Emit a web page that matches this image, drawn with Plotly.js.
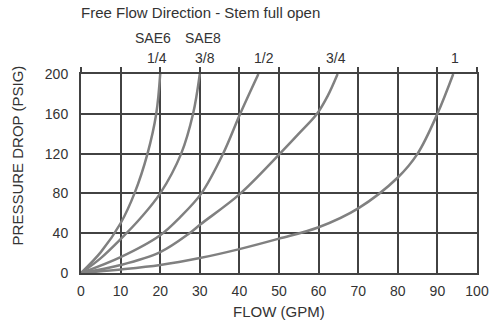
<!DOCTYPE html>
<html>
<head>
<meta charset="utf-8">
<script src="https://cdn.plot.ly/plotly-3.0.1.min.js"></script>
<style>html,body{margin:0;padding:0;background:#fff;}#chart{width:496px;height:322px;}</style>
</head>
<body>
<div id="chart"></div>
<script>
// Curve data (FLOW in GPM, PRESSURE DROP in PSIG)
const flow_1_4 = [0, 5, 10, 13.5, 16.8, 19, 20];
const psi_1_4  = [0, 21, 50, 80, 120, 160, 200];

const flow_3_8 = [0, 5, 10, 15, 20, 25.3, 28.3, 30];
const psi_3_8  = [0, 15, 34, 55, 80, 120, 160, 200];

const flow_1_2 = [0, 10, 20, 25, 30.4, 35.9, 40.2, 44.8];
const psi_1_2  = [0, 16, 38, 56, 80, 120, 160, 200];

const flow_3_4 = [0, 10, 20, 27.4, 30.2, 40, 50, 55, 59.6, 62.3, 64.8];
const psi_3_4  = [0, 8, 21, 40, 49, 79, 119, 140, 160, 178, 200];

const flow_1 = [0, 10, 20, 30, 40, 50, 60, 70, 80, 85, 90, 94];
const psi_1  = [0, 3.5, 8, 15, 24, 34.5, 46, 65, 96, 120, 160, 200];

const seriesFlows = [flow_1_4, flow_3_8, flow_1_2, flow_3_4, flow_1];
const seriesPsi   = [psi_1_4, psi_3_8, psi_1_2, psi_3_4, psi_1];
const seriesNames = ['1/4', '3/8', '1/2', '3/4', '1'];

// Curve labels above the plot
const labelTexts = ['SAE6', 'SAE8', '1/4', '3/8', '1/2', '3/4', '1'];
const labelX     = [18.3, 30.9, 19.2, 31.2, 46.1, 64.5, 94.5];
const labelRow   = [0, 0, 1, 1, 1, 1, 1];

const xTicks = [0, 10, 20, 30, 40, 50, 60, 70, 80, 90, 100];
const yTicks = [0, 40, 80, 120, 160, 200];

const FONT = 'Liberation Sans, Arial, sans-serif';
const TXT = '#333';
const GRID = '#424242';

const traces = seriesFlows.map((f, i) => ({
  x: f, y: seriesPsi[i], name: seriesNames[i], type: 'scatter', mode: 'lines',
  line: {color: '#808080', width: 2.5, shape: 'spline', smoothing: 1},
  hoverinfo: 'skip', showlegend: false, cliponaxis: true
}));
// invisible copy on the top axis so that its tick marks get drawn
traces.push({
  x: flow_1, y: psi_1, xaxis: 'x2', yaxis: 'y', type: 'scatter', mode: 'lines',
  line: {color: 'rgba(0,0,0,0)', width: 0}, opacity: 0,
  hoverinfo: 'skip', showlegend: false
});

const rowY = [1.181, 1.080];
const annotations = labelTexts.map((t, i) => ({
  text: t, xref: 'x', yref: 'paper', x: labelX[i], y: rowY[labelRow[i]],
  showarrow: false, xanchor: 'center', yanchor: 'middle',
  font: {family: FONT, size: 14, color: TXT}
}));
annotations.push({
  text: 'FLOW (GPM)', xref: 'paper', yref: 'paper', x: 0.5, y: -0.191,
  showarrow: false, xanchor: 'center', yanchor: 'middle',
  font: {family: FONT, size: 15, color: TXT}
});
annotations.push({
  text: 'PRESSURE DROP (PSIG)', xref: 'paper', yref: 'paper', x: -0.158, y: 0.593,
  showarrow: false, xanchor: 'center', yanchor: 'middle', textangle: -90,
  font: {family: FONT, size: 15, color: TXT}
});

const layout = {
  width: 496, height: 322,
  margin: {l: 80.5, r: 19.3, t: 74, b: 49, pad: 0},
  paper_bgcolor: '#fff', plot_bgcolor: '#fff',
  title: {
    text: 'Free Flow Direction - Stem full open',
    font: {family: FONT, size: 15, color: TXT},
    xref: 'paper', x: 0, xanchor: 'left',
    yref: 'container', y: 0.96, yanchor: 'middle'
  },
  xaxis: {
    range: [0, 100], tickvals: xTicks, ticktext: xTicks.map(String),
    showgrid: true, gridcolor: GRID, gridwidth: 2,
    showline: true, linecolor: GRID, linewidth: 2, mirror: true,
    zeroline: false, ticks: '', ticklabelstandoff: 4,
    tickfont: {family: FONT, size: 14, color: TXT}, fixedrange: true
  },
  xaxis2: {
    range: [0, 100], tickvals: xTicks, overlaying: 'x', side: 'top', anchor: 'y',
    showgrid: false, showline: false, zeroline: false,
    ticks: 'outside', ticklen: 6, tickwidth: 2, tickcolor: GRID,
    showticklabels: false, fixedrange: true
  },
  yaxis: {
    range: [0, 200], tickvals: yTicks, ticktext: yTicks.map(String),
    showgrid: true, gridcolor: GRID, gridwidth: 2,
    showline: true, linecolor: GRID, linewidth: 2, mirror: true,
    zeroline: false, ticks: '', ticklabelstandoff: 8,
    tickfont: {family: FONT, size: 14, color: TXT}, fixedrange: true
  },
  annotations: annotations,
  showlegend: false
};

Plotly.newPlot('chart', traces, layout, {displayModeBar: false, staticPlot: true});
</script>
</body>
</html>
